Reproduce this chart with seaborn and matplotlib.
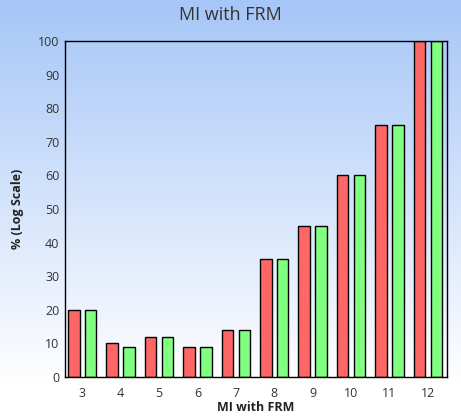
"""MI with FRM - grouped bar chart"""

import matplotlib
matplotlib.use("Agg")
import matplotlib.pyplot as plt
from matplotlib.colors import LinearSegmentedColormap
import seaborn as sns
import pandas as pd
import numpy as np

# Dados
categorias = ["3", "4", "5", "6", "7", "8", "9", "10", "11", "12"]
serie_vermelha = [20, 10, 12, 9, 14, 35, 45, 60, 75, 100]
serie_verde = [20, 9, 12, 9, 14, 35, 45, 60, 75, 100]
nomes_series = ["Serie 1", "Serie 2"]
yticks = list(range(0, 101, 10))

df = pd.DataFrame({
    "MI": categorias * 2,
    "valor": serie_vermelha + serie_verde,
    "serie": [nomes_series[0]] * len(categorias) + [nomes_series[1]] * len(categorias),
})

sns.set_theme(style="white")
plt.rcParams["font.family"] = ["Open Sans", "DejaVu Sans"]

fig = plt.figure(figsize=(4.61, 4.18), dpi=100)

# Fundo em degrade (azul claro no topo, branco embaixo)
bg = fig.add_axes([0, 0, 1, 1], zorder=-1)
cmap = LinearSegmentedColormap.from_list("fundo", [(0, "#ffffff"), (0.08, "#ffffff"), (1, "#a6c6f7")])
grad = np.linspace(0, 1, 256).reshape(-1, 1)
bg.imshow(grad, aspect="auto", cmap=cmap, origin="lower", extent=[0, 1, 0, 1])
bg.axis("off")

ax = fig.add_axes([65 / 461, 1 - 377 / 418, (447 - 65) / 461, (377 - 41) / 418])
ax.set_facecolor("none")

sns.barplot(
    data=df, x="MI", y="valor", hue="serie", order=categorias,
    palette=["#ff6666", "#80ff80"], saturation=1, width=0.88, gap=0.32,
    edgecolor="black", linewidth=1, legend=False, ax=ax,
)

ax.set_ylim(0, 100)
ax.set_xlim(-0.45, 9.5)
ax.set_yticks(yticks)
ax.tick_params(axis="both", length=0, labelsize=9, colors="#333333", pad=4)
ax.tick_params(axis="x", pad=7)
for s in ax.spines.values():
    s.set_color("black")
    s.set_linewidth(1)

ax.set_xlabel("MI with FRM", fontsize=9, color="#222222", fontweight="bold", labelpad=1)
ax.set_ylabel("% (Log Scale)", fontsize=9, color="#222222", fontweight="bold", labelpad=10)
fig.text(0.5, 1 - 15 / 418, "MI with FRM", ha="center", va="center",
         fontsize=13, color="#333333")

fig.savefig("out.png", dpi=100)
